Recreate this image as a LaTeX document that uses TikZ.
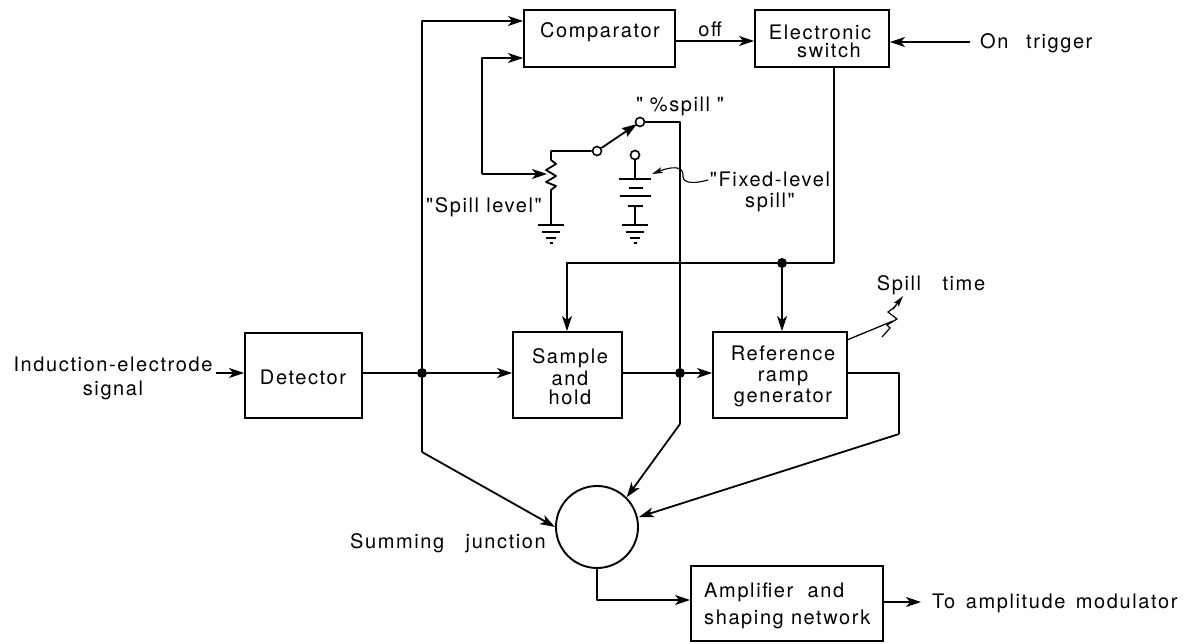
\documentclass[tikz,border=0pt]{standalone}
\usepackage{fontspec}
\setmainfont[LetterSpace=8,Ligatures=TeXOff]{TeX Gyre Heros}
\usetikzlibrary{arrows.meta,calc}
\tikzset{
  blk/.style={draw,line width=1.9pt,minimum width=#1,inner sep=0pt,align=center},
  lbl/.style={inner sep=0pt,align=center,font=\fontsize{20}{24}\selectfont},
  wire/.style={line width=1.8pt,line join=round},
  arr/.style={wire,-{Stealth[length=15pt,width=10pt,inset=4pt]}},
  dotn/.style={circle,fill=black,inner sep=0pt,minimum size=10pt},
  contact/.style={circle,draw,fill=white,line width=1.6pt,inner sep=0pt,minimum size=9pt}
}
\newcommand{\gnd}[1]{%
  \draw[wire] ($(#1)+(-13,0)$) -- ($(#1)+(13,0)$);
  \draw[wire] ($(#1)+(-9,7)$) -- ($(#1)+(9,7)$);
  \draw[wire] ($(#1)+(-5,13)$) -- ($(#1)+(5,13)$);
  \draw[wire] ($(#1)+(-1.5,18)$) -- ($(#1)+(1.5,18)$);
}
\begin{document}
\begin{tikzpicture}[x=1pt,y=-1pt]
\useasboundingbox (0,0) rectangle (1187,644);
% blocks
\node[blk=151pt,minimum height=57pt] (comp) at (599.5,38.5) {};
\node[lbl] at (600,32) {Comparator};
\node[blk=134pt,minimum height=57pt] (esw) at (822,38.5) {};
\node[lbl] at (820,41) {Electronic\\[-6pt]\hspace*{18pt}switch};
\node[blk=117pt,minimum height=85pt] (det) at (303.5,375.5) {};
\node[lbl] at (303,377) {Detector};
\node[blk=109pt,minimum height=86pt] (sh) at (567.5,375) {};
\node[lbl] at (570,377) {Sample\\[-2pt]and\\[-5pt]hold};
\node[blk=134pt,minimum height=86pt] (ramp) at (780,375) {};
\node[lbl] at (783,376) {Reference\\[-3pt]ramp\\[-3pt]generator};
\node[draw,circle,line width=1.9pt,minimum size=82pt,inner sep=0pt] (sum) at (597,527) {};
\node[blk=192pt,minimum height=75pt] (amp) at (787,603.5) {};
\node[lbl,align=left,anchor=west] at (704,606) {Amplifier\ \ and\\[3pt]shaping network};
% labels
\node[lbl] (tsig) at (113,378) {Induction-electrode\\signal};
\node[lbl,anchor=west] (ttrig) at (980,43) {On\ \ \,trigger};
\node[lbl,anchor=west] (tout) at (932,603) {To\ \,amplitude\ \,modulator};
\node[lbl] at (448,543) {Summing\ \ \ junction};
\node[lbl] at (931,285) {Spill\ \ \ time};
\node[lbl] at (710,29) {off};
\node[lbl] at (680,106) {"\,\,\%spill\,\,"};
\node[lbl] at (484,207) {"Spill level"};
\node[lbl] at (770,192) {"Fixed-level\\[-3pt]spill"};
% nodes on the wires
\node[dotn] (j1) at (422,373) {};
\node[dotn] (j2) at (680,373) {};
\node[dotn] (j3) at (782,263) {};
\node[contact] (c0) at (597,151) {};
\node[contact] (c1) at (640,122) {};
\node[contact] (c2) at (635,155) {};
% top section
\coordinate (sb1) at (422,452);
\coordinate (t1) at (422,21);
\coordinate (ci1) at (comp.west |- t1);
\coordinate (t2) at (482,58);
\coordinate (ci2) at (comp.west |- t2);
\coordinate (t3) at (715,41);
\coordinate (wiper) at (547,174);
\coordinate (w1) at (482,174);
\draw[wire] (sb1) -- (j1);
\draw[arr] (j1) -- (t1) -- (ci1);
\draw[arr] (w1) -- (t2) -- (ci2);
\draw[arr] (w1) -- (wiper);
\draw[arr] (comp.east |- t3) -- (esw.west |- t3);
\coordinate (tr) at (970,42);
\draw[arr] (tr) -- (esw.east |- tr);
% pot
\coordinate (ptop) at (551,151);
\coordinate (pbot) at (551,190);
\coordinate (g1) at (551,225);
\draw[wire] (c0) -- (ptop) -- (551,160) -- (556,164) -- (546,170) -- (556,176) -- (546,182) -- (556,186) -- (pbot) -- (g1);
\gnd{g1}
\draw[wire,-{Stealth[length=15pt,width=10pt,inset=2pt]}] (c0) -- ($(c1)+(-3,2)$);
% battery
\coordinate (b0) at (635,179);
\coordinate (b3) at (635,206);
\coordinate (g2) at (635,225);
\draw[wire] (c2) -- (b0);
\draw[wire] (619,179) -- (651,179);
\draw[line width=2.6pt] (629,188) -- (643,188);
\draw[wire] (620,196) -- (651,196);
\draw[line width=2.6pt] (628,206) -- (643,206);
\draw[wire] (b3) -- (g2);
\gnd{g2}
\draw[line width=1.1pt,-{Stealth[length=11pt,width=6pt,inset=3pt]}] (708,180) .. controls (690,185) and (682,182) .. (683,175) .. controls (683,165) and (670,167) .. (652,174);
% %spill line
\coordinate (sp) at (680,424);
\coordinate (s1) at (680,122);
\draw[wire] (c1) -- (s1) -- (j2) -- (sp);
\draw[arr] (sp) -- (sum.north east);
% switch output bus
\coordinate (bus) at (834,263);
\coordinate (bt) at (834,67);
\coordinate (bl) at (567,263);
\draw[wire] (bt) -- (bus) -- (j3);
\draw[arr] (j3) -- (bl) -- (bl |- sh.north);
\draw[arr] (j3) -- (j3 |- ramp.north);
% main signal path
\coordinate (m) at (0,373);
\coordinate (sg) at (216,373);
\draw[arr] (sg) -- (det.west |- m);
\draw[wire] (det.east |- m) -- (j1);
\draw[arr] (j1) -- (sh.west |- m);
\draw[wire] (sh.east |- m) -- (j2);
\draw[arr] (j2) -- (ramp.west |- m);
% to the summing junction
\draw[arr] (sb1) -- (sum.west);
\coordinate (r1) at (899,373);
\coordinate (r2) at (899,434);
\draw[wire] (ramp.east |- m) -- (r1) -- (r2);
\draw[arr] (r2) -- (639,517);
% summing to amplifier
\coordinate (a1) at (597,600);
\coordinate (a2) at (921,602);
\draw[arr] (sum.south) -- (a1) -- (amp.west |- a1);
\draw[arr] (amp.east |- a2) -- (a2);
% spill time control
\draw[line width=1.3pt] (847,340) -- (893,321);
\draw[line width=1.2pt] (882,337) -- (890,328) -- (887,325) -- (897,319) -- (888,312) -- (895,307);
\draw[line width=1.3pt,-{Stealth[length=11pt,width=6pt,inset=2pt]}] (893,309) -- (903,296);
\end{tikzpicture}
\end{document}
